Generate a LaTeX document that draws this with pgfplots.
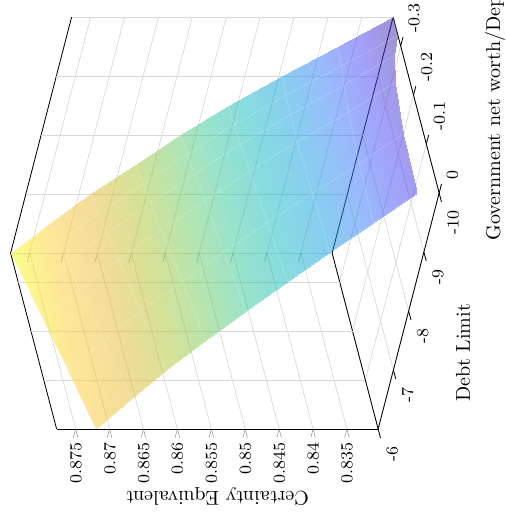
\documentclass[border=0pt]{standalone}
\usepackage{pgfplots}
\usepackage{pgfplotstable}
\pgfplotsset{compat=1.18}
\pgfplotsset{colormap={whitemap}{color=(white) color=(white)},
colormap={parula}{
rgb=(.2422,.1504,.6603)
rgb=(.2810,.2600,.9579)
rgb=(.2000,.4700,.9700)
rgb=(.0689,.6200,.8800)
rgb=(.0590,.7250,.7500)
rgb=(.2000,.7800,.6000)
rgb=(.4420,.7918,.3698)
rgb=(.6948,.7623,.1849)
rgb=(.9000,.7300,.2000)
rgb=(.9932,.8000,.2000)
rgb=(.9769,.9839,.0805)
}}
\pgfplotstableread{
x y z
-10 -0.359 .8304
-10 -0.32 .8305
-10 -0.28 .8318
-10 -0.225 .8327
-10 -0.12 .8334
-10 0 .8337
-9.5 -0.359 .8375
-9.5 -0.32 .8376
-9.5 -0.28 .8380
-9.5 -0.225 .8384
-9.5 -0.12 .8388
-9.5 0 .8390
-9 -0.359 .8445
-9 -0.32 .8447
-9 -0.28 .8448
-9 -0.225 .8448
-9 -0.12 .8446
-9 0 .8443
-8.5 -0.359 .8514
-8.5 -0.32 .8512
-8.5 -0.28 .8510
-8.5 -0.225 .8507
-8.5 -0.12 .8501
-8.5 0 .8494
-8 -0.359 .8573
-8 -0.32 .8570
-8 -0.28 .8567
-8 -0.225 .8562
-8 -0.12 .8554
-8 0 .8544
-7.5 -0.359 .8628
-7.5 -0.32 .8624
-7.5 -0.28 .8620
-7.5 -0.225 .8615
-7.5 -0.12 .8604
-7.5 0 .8592
-7 -0.359 .8683
-7 -0.32 .8678
-7 -0.28 .8673
-7 -0.225 .8667
-7 -0.12 .8654
-7 0 .8639
-6.5 -0.359 .8732
-6.5 -0.32 .8726
-6.5 -0.28 .8721
-6.5 -0.225 .8713
-6.5 -0.12 .8697
-6.5 0 .8680
-6 -0.359 .8778
-6 -0.32 .8772
-6 -0.28 .8765
-6 -0.225 .8756
-6 -0.12 .8739
-6 0 .8720
}\surfdata
\begin{document}
\begin{tikzpicture}
\useasboundingbox (0,0) rectangle (240pt,244.27pt);
\clip (0,0) rectangle (240pt,244.27pt);
\begin{axis}[
  disabledatascaling,
  clip=false,
  anchor=origin, at={(179.4pt,40.8pt)},
  x={(-7.233pt,-27.98pt)},
  y={(60.8pt,-232.4pt)},
  z={(-3217pt,0pt)},
  xmin=-10,xmax=-6,ymin=-0.359,ymax=0,zmin=0.8304,zmax=0.8778,
  xtick={-10,-9,-8,-7,-6},
  xticklabels={{-10},{-9},{-8},{-7},{-6}},
  ytick={-0.3,-0.2,-0.1,0},
  yticklabels={{-0.3},{-0.2},{-0.1},{0}},
  ztick={0.835,0.84,0.845,0.85,0.855,0.86,0.865,0.87,0.875},
  zticklabels={{0.835},{0.84},{0.845},{0.85},{0.855},{0.86},{0.865},{0.87},{0.875}},
  xtick pos=upper, ztick pos=upper, ytick pos=lower,
  xticklabel pos=lower, zticklabel pos=lower, yticklabel pos=upper,
  tick align=outside,
  xtick style={draw=none},
  ytick style={draw=none},
  tick label style={font=\footnotesize},
  xticklabel style={xshift=5.6pt,yshift=-0.6pt,rotate=90,anchor=east},
  yticklabel style={xshift=5.2pt,yshift=-1.2pt,rotate=90,anchor=west},
  zticklabel style={xshift=-1pt,yshift=1pt,rotate=90,anchor=east},
  grid=major,
  major grid style={black!15,line width=0.35pt},
  xlabel={\scalebox{0.95}{Debt Limit}},
  ylabel={\scalebox{0.95}{Government net worth/Deposits}},
  zlabel={\scalebox{0.95}{Certainty Equivalent}},
  xlabel style={at={(rel axis cs:0.5,1,0)},anchor=center,xshift=25.8pt,yshift=-19.9pt,rotate=90},
  ylabel style={at={(rel axis cs:0,1,0)},anchor=west,xshift=26.6pt,yshift=-26.1pt,rotate=90},
  zlabel style={at={(rel axis cs:1,1,0.5)},anchor=center,xshift=-32pt,rotate=90},
  colormap name=parula,
]
\addplot3[surf,shader=interp,opacity=0.5,mesh/cols=6,forget plot] table[x=x,y=y,z=z] {\surfdata};
\addplot3[mesh,colormap name=whitemap,opacity=0.15,line width=0.2pt,mesh/cols=6,forget plot] table[x=x,y=y,z=z] {\surfdata};
% tick marks of the x axis on its front edge
\addplot3[black,thin,forget plot] coordinates {(-10,0,.8304) (-10,.018,.8304)};
\addplot3[black,thin,forget plot] coordinates {(-9,0,.8304) (-9,.018,.8304)};
\addplot3[black,thin,forget plot] coordinates {(-8,0,.8304) (-8,.018,.8304)};
\addplot3[black,thin,forget plot] coordinates {(-7,0,.8304) (-7,.018,.8304)};
\addplot3[black,thin,forget plot] coordinates {(-6,0,.8304) (-6,.018,.8304)};
% tick marks of the y axis on its front edge
\addplot3[black,thin,forget plot] coordinates {(-10,-0.3,.8304) (-10.15,-0.3,.8304)};
\addplot3[black,thin,forget plot] coordinates {(-10,-0.2,.8304) (-10.15,-0.2,.8304)};
\addplot3[black,thin,forget plot] coordinates {(-10,-0.1,.8304) (-10.15,-0.1,.8304)};
\addplot3[black,thin,forget plot] coordinates {(-10,0,.8304) (-10.15,0,.8304)};
\end{axis}
\end{tikzpicture}
\end{document}
